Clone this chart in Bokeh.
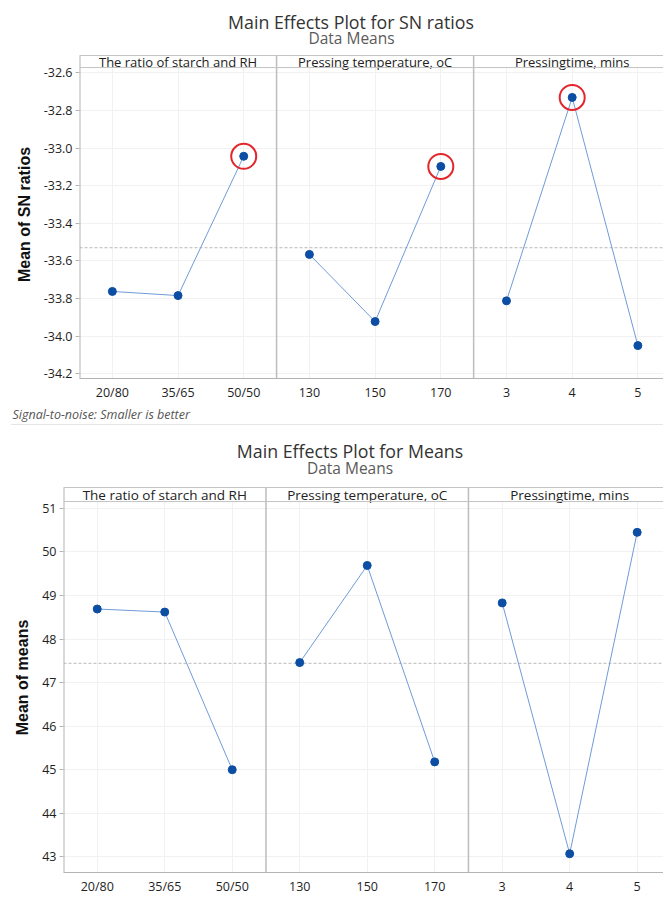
from bokeh.plotting import figure
from bokeh.models import Span, Title, FixedTicker, PrintfTickFormatter, Div, Range1d
from bokeh.layouts import column
from bokeh.embed import file_html
from bokeh.resources import INLINE
from bokeh.core.properties import value
import numpy as np

# ---------------- data ----------------
factors = ["The ratio of starch and RH", "Pressing temperature, oC", "Pressingtime, mins"]
levels_ratio = ["20/80", "35/65", "50/50"]
levels_temp = ["130", "150", "170"]
levels_time = ["3", "4", "5"]

sn_ratio = [-33.762, -33.784, -33.043]
sn_temp = [-33.565, -33.922, -33.097]
sn_time = [-33.812, -32.730, -34.050]

mean_ratio = [48.69, 48.62, 45.00]
mean_temp = [47.46, 49.69, 45.18]
mean_time = [48.83, 43.07, 50.45]

sn_ticks = [-34.2, -34.0, -33.8, -33.6, -33.4, -33.2, -33.0, -32.8, -32.6]
mean_ticks = [43, 44, 45, 46, 47, 48, 49, 50, 51]

FONT = "Open Sans"
LINE_C = "#6f9bd8"
DOT_C = "#0c4ea3"
AXIS_C = "#b4b4b4"


def title_block(title, height, title_pos, sub_pos):
    """A small axis-less figure whose data space equals pixels, holding the titles."""
    t = figure(width=663, height=height, output_backend="svg", toolbar_location=None,
               x_range=Range1d(0, 663), y_range=Range1d(height, 0),
               x_axis_type=None, y_axis_type=None, min_border=0)
    t.frame_align = False
    t.outline_line_color = None
    t.grid.visible = False
    t.text(x=[title_pos[0]], y=[title_pos[1]], text=[title], text_align="center",
           text_baseline="middle", text_font=value(FONT), text_font_size="17.8px",
           text_color="#333333")
    t.text(x=[sub_pos[0]], y=[sub_pos[1]], text=["Data Means"], text_align="center",
           text_baseline="middle", text_font=value(FONT), text_font_size="15.5px",
           text_color="#5a5a5a")
    return t


def build(series, ticks, fmt, y_lo, y_top, y_hdr, pad, ylabel, mark_max, width, height,
          left, bottom, hdr_size, x_end):
    y_hi = y_top + pad
    p = figure(width=width, height=height, output_backend="svg", toolbar_location=None,
               x_range=Range1d(0.5, x_end), y_range=Range1d(y_lo, y_hi),
               min_border_left=left, min_border_right=0, min_border_top=0,
               min_border_bottom=bottom)
    p.frame_align = False
    p.outline_line_color = None
    p.background_fill_color = "white"
    p.border_fill_color = "white"

    # header background (hides vertical grid in header and above it)
    p.quad(left=[0.0], right=[10.0], bottom=[y_hdr], top=[y_hi + 1], fill_color="white",
           line_color=None)

    levels = [levels_ratio, levels_temp, levels_time]
    overrides = {}
    all_vals = []
    for i, vals in enumerate(series):
        xs = [3 * i + j + 1 for j in range(len(vals))]
        for x, lab in zip(xs, levels[i]):
            overrides[x] = lab
        all_vals += list(vals)
        p.line(xs, vals, line_color=LINE_C, line_width=1)
        p.scatter(xs, vals, size=8, fill_color=DOT_C, line_color=DOT_C)
        if mark_max:
            k = int(np.argmax(vals))
            p.scatter([xs[k]], [vals[k]], size=25, fill_color=None, line_color="#e3262b",
                      line_width=2)

    mean_val = float(np.mean(all_vals))
    p.add_layout(Span(location=mean_val, dimension="width", line_color="#b8b8b8",
                      line_width=1, line_dash="3 2", level="underlay"))

    # left border (stops at the header top), dividers and header lines
    p.segment(x0=[0.5], y0=[y_lo], x1=[0.5], y1=[y_top], line_color=AXIS_C, line_width=2)
    for d in (3.5, 6.5):
        p.segment(x0=[d], y0=[y_lo], x1=[d], y1=[y_top], line_color="#bdbdbd",
                  line_width=1.5)
    p.add_layout(Span(location=y_hdr, dimension="width", line_color="#c4c4c4", line_width=1))
    p.add_layout(Span(location=y_top, dimension="width", line_color="#c4c4c4", line_width=1))

    hdr_mid = (y_hdr + y_top) / 2
    p.text(x=[2, 5, 8], y=[hdr_mid] * 3, text=factors, text_align="center",
           text_baseline="middle", text_font=value(FONT), text_font_size=hdr_size,
           text_color="#222222")

    # axes
    p.xaxis.ticker = FixedTicker(ticks=sorted(overrides.keys()))
    p.xaxis.major_label_overrides = overrides
    p.yaxis.ticker = FixedTicker(ticks=ticks)
    if fmt:
        p.yaxis.formatter = PrintfTickFormatter(format=fmt)
    for ax in (p.xaxis[0], p.yaxis[0]):
        ax.axis_line_color = AXIS_C
        ax.major_tick_line_color = AXIS_C
        ax.minor_tick_line_color = None
        ax.major_tick_in = 0
        ax.major_label_text_font = FONT
        ax.major_label_text_font_size = "12.5px"
        ax.major_label_text_color = "#1e1e1e"
    p.yaxis.axis_line_color = None
    p.xaxis.major_tick_out = 0
    p.xaxis.major_label_standoff = 5
    p.yaxis.major_tick_out = 4
    p.yaxis.major_label_standoff = 3
    p.yaxis.axis_label = ylabel
    p.yaxis.axis_label_text_font = "Liberation Sans"
    p.yaxis.axis_label_text_font_style = "bold"
    p.yaxis.axis_label_text_font_size = "16px"
    p.yaxis.axis_label_text_color = "#111111"
    p.yaxis.axis_label_standoff = 8

    p.xgrid.grid_line_color = "#f1f1f1"
    p.ygrid.grid_line_color = "#f1f1f1"
    return p


top_title = title_block("Main Effects Plot for SN ratios", 50, (350.5, 21), (351, 37))
top = build([sn_ratio, sn_temp, sn_time], sn_ticks, "%.1f", -34.225, -32.507, -32.571,
            5 / 188.0, "Mean of SN ratios", True, 663, 374, 79, 46, "13px", 9.39)
top.add_layout(Title(text="Signal-to-noise: Smaller is better", align="left", offset=-67,
                     text_font=FONT, text_font_size="12.5px", text_font_style="italic",
                     text_color="#555555", standoff=0), "below")

sep = Div(text="", width=652, height=1, margin=(0, 0, 0, 11),
          styles={"background-color": "#e6e6e6"})

bottom_title = title_block("Main Effects Plot for Means", 57, (349.5, 25), (349.5, 42))
bottom = build([mean_ratio, mean_temp, mean_time], mean_ticks, None, 42.64, 51.48, 51.158,
               5 / 43.56, "Mean of means", False, 663, 417, 63, 27, "13.5px", 9.39)

layout = column(top_title, top, sep, bottom_title, bottom)
open("out.html", "w").write(file_html(layout, INLINE))
